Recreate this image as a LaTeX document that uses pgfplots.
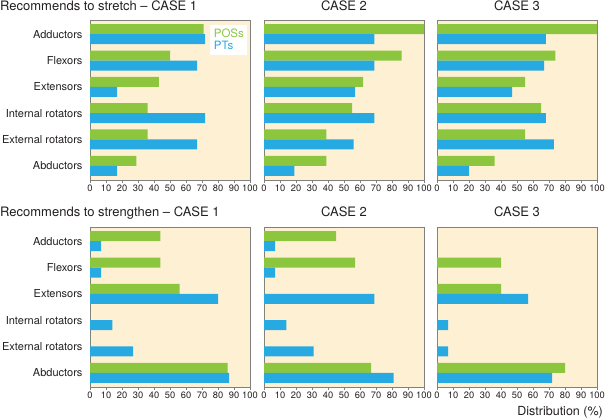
\documentclass[border=0pt]{standalone}
\usepackage{fontspec}
\setmainfont{TeX Gyre Heros}
\usepackage{pgfplots}
\usepackage{pgfplotstable}
\pgfplotsset{compat=1.18}

\definecolor{posgreen}{HTML}{8CC63F}
\definecolor{ptblue}{HTML}{27AAE1}
\definecolor{panelbg}{HTML}{FEF0D2}
\definecolor{framegray}{HTML}{808080}
\definecolor{txt}{HTML}{231F20}

% y: 5 = Adductors (top) ... 0 = Abductors (bottom)
\pgfplotstableread{
y pos pt
5 71 72
4 50 67
3 43 17
2 36 72
1 36 67
0 29 17
}\stretchA
\pgfplotstableread{
y pos pt
5 100 69
4 86 69
3 62 57
2 55 69
1 39 56
0 39 19
}\stretchB
\pgfplotstableread{
y pos pt
5 100 68
4 74 67
3 55 47
2 65 68
1 55 73
0 36 20
}\stretchC
\pgfplotstableread{
y pos pt
5 44 7
4 44 7
3 56 80
2 0 14
1 0 27
0 86 87
}\strengthA
\pgfplotstableread{
y pos pt
5 45 7
4 57 7
3 0 69
2 0 14
1 0 31
0 67 81
}\strengthB
\pgfplotstableread{
y pos pt
5 0 0
4 40 0
3 40 57
2 0 7
1 0 7
0 80 72
}\strengthC

\pgfplotsset{
  panel/.style={
    xbar, scale only axis, width=160pt, height=160pt,
    xmin=0, xmax=100, ymin=-0.54, ymax=5.54,
    xtick={0,10,...,100}, ytick={0,...,5}, yticklabels={},
    bar width=0.38,
    axis background/.style={fill=panelbg},
    axis line style={draw=framegray, line width=0.8pt},
    tick align=outside, xtick pos=bottom,
    major x tick style={draw=framegray, line width=0.6pt},
    major tick length=3pt,
    ytick style={draw=none},
    tick label style={text=txt},
    xticklabel style={font=\fontsize{9.3}{10}\selectfont, inner sep=1.5pt},
    yticklabel style={font=\fontsize{11}{13}\selectfont, xshift=-1pt},
    /pgf/number format/assume math mode=true,
  },
  namedy/.style={yticklabels={Abductors, External rotators, Internal rotators, Extensors, Flexors, Adductors}},
  posbar/.style={fill=posgreen, draw=none, bar shift=0.19},
  ptbar/.style={fill=ptblue, draw=none, bar shift=-0.19},
}

\begin{document}
\begin{tikzpicture}[x=1pt, y=1pt]
\path[use as bounding box] (0,0) rectangle (605,-419);

% row 1: stretch
\begin{axis}[panel, namedy, at={(90pt,-20pt)}, anchor=north west,
  legend style={at={(0.985,0.97)}, anchor=north east, draw=none, fill=white,
    font=\fontsize{11.5}{12}\selectfont, inner sep=1.5pt, row sep=-1pt,
    legend cell align=left},
  legend image code/.code={}]
\addplot[posbar] table[x=pos, y=y] {\stretchA};
\addplot[ptbar] table[x=pt, y=y] {\stretchA};
\addlegendentry{\textcolor{posgreen}{POSs}}
\addlegendentry{\textcolor{ptblue}{PTs}}
\end{axis}
\begin{axis}[panel, at={(264pt,-20pt)}, anchor=north west]
\addplot[posbar] table[x=pos, y=y] {\stretchB};
\addplot[ptbar] table[x=pt, y=y] {\stretchB};
\end{axis}
\begin{axis}[panel, at={(437pt,-20pt)}, anchor=north west]
\addplot[posbar] table[x=pos, y=y] {\stretchC};
\addplot[ptbar] table[x=pt, y=y] {\stretchC};
\end{axis}

% row 2: strengthen
\begin{axis}[panel, namedy, at={(90pt,-227pt)}, anchor=north west]
\addplot[posbar] table[x=pos, y=y] {\strengthA};
\addplot[ptbar] table[x=pt, y=y] {\strengthA};
\end{axis}
\begin{axis}[panel, at={(264pt,-227pt)}, anchor=north west]
\addplot[posbar] table[x=pos, y=y] {\strengthB};
\addplot[ptbar] table[x=pt, y=y] {\strengthB};
\end{axis}
\begin{axis}[panel, at={(437pt,-227pt)}, anchor=north west]
\addplot[posbar] table[x=pos, y=y] {\strengthC};
\addplot[ptbar] table[x=pt, y=y] {\strengthC};
\end{axis}

\begin{scope}[every node/.style={text=txt, font=\fontsize{13}{15}\selectfont, inner sep=0pt}]
\node[anchor=base west] at (0,-11) {Recommends to stretch -- CASE 1};
\node[anchor=base] at (344,-11) {CASE 2};
\node[anchor=base] at (517,-11) {CASE 3};
\node[anchor=base west] at (0,-217) {Recommends to strengthen -- CASE 1};
\node[anchor=base] at (344,-217) {CASE 2};
\node[anchor=base] at (517,-217) {CASE 3};
\node[anchor=base east, font=\fontsize{12.5}{14}\selectfont] at (603,-415) {Distribution (\%)};
\end{scope}
\end{tikzpicture}
\end{document}
